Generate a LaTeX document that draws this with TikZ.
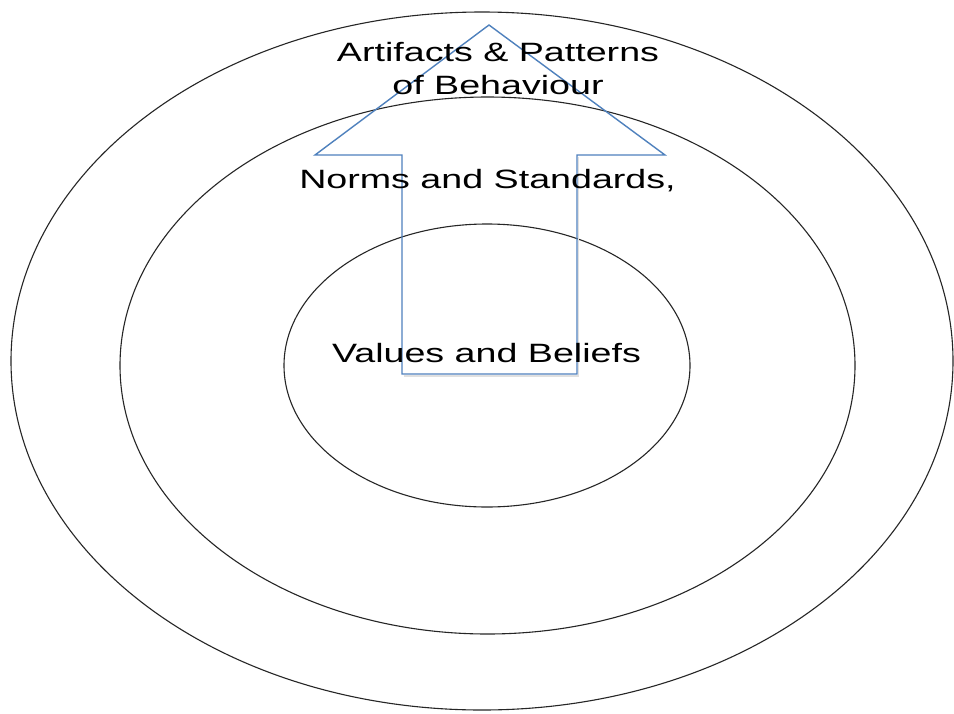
\documentclass[tikz,border=0pt]{standalone}
\usepackage{fontspec}
\setmainfont{Liberation Sans}
\begin{document}
\begin{tikzpicture}[x=1pt,y=-1pt,
  ring/.style={draw=black!85,line width=1.1pt},
  uparrow/.style={draw={rgb,255:red,79;green,129;blue,189},line width=1.4pt,line join=miter},
  label/.style={font=\fontsize{26.5}{33}\selectfont,align=center,text=black,inner sep=0pt,
    xscale=1.42,transform shape}]
  \useasboundingbox[fill=white] (0,0) rectangle (954,713);
  % three nested layers
  \draw[ring] (482,361) ellipse [x radius=471, y radius=349];
  \draw[ring] (487.5,365.5) ellipse [x radius=367.5, y radius=268.5];
  \draw[ring] (487,365.5) ellipse [x radius=203, y radius=141.5];
  % upward block arrow
  \coordinate (tip) at (489,25);
  \coordinate (hl) at (315,155);
  \coordinate (hr) at (665,155);
  \coordinate (sl) at (402,155);
  \coordinate (sr) at (577,155);
  \coordinate (bl) at (402,374);
  \coordinate (br) at (577,374);
  \draw[black!12,line width=1.6pt] ([shift={(1.5,2)}]bl) -- ([shift={(1.5,2)}]br) -- ([shift={(1.5,2)}]sr);
  \draw[uparrow] (tip) -- (hr) -- (sr) -- (br) -- (bl) -- (sl) -- (hl) -- cycle;
  % layer labels
  \node[label,anchor=base] (art) at (498,94) {Artifacts \& Patterns\\of Behaviour};
  \node[label,anchor=base] (norms) at (487.5,188) {Norms and Standards,};
  \node[label,anchor=base] (values) at (486.5,362) {Values and Beliefs};
\end{tikzpicture}
\end{document}
